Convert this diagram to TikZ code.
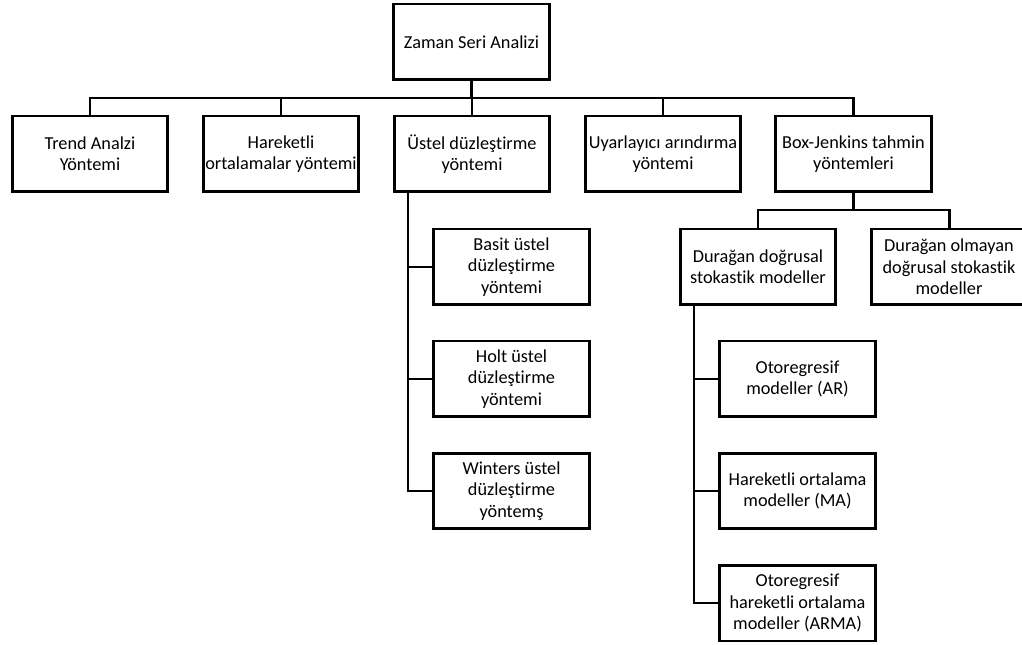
\documentclass[tikz,border=0pt]{standalone}
\usepackage{fontspec}
\setmainfont{Carlito}[Ligatures=NoCommon]
\begin{document}
\begin{tikzpicture}[x=0.02cm, y=-0.02cm,
  kutu/.style={draw, line width=1.7pt, minimum width=3.12cm, minimum height=1.52cm,
    inner sep=1pt, align=center, font=\fontsize{10.4}{12.2}\selectfont},
  bag/.style={line width=1.7pt}]
\clip (0,0) rectangle (1022,645);
% ana kutu
\node[kutu] (zsa) at (471.5,42) {Zaman Seri Analizi};
% birinci seviye
\node[kutu] (trend) at (90,154) {Trend Analzi\\Yöntemi};
\node[kutu] (hok) at (281,154) {Hareketli\\ortalamalar yöntemi};
\node[kutu] (ust) at (472,154) {Üstel düzleştirme\\yöntemi};
\node[kutu] (uya) at (663,154) {Uyarlayıcı arındırma\\yöntemi};
\node[kutu] (bjt) at (853.5,154) {Box-Jenkins tahmin\\yöntemleri};
\coordinate (bus0) at (471.5,98);
\draw[bag] (zsa.south) -- (bus0);
\draw[bag] (trend.north) |- (bus0) -| (bjt.north);
\draw[bag] (hok.north) -- (hok.north |- bus0);
\draw[bag] (ust.north) -- (ust.north |- bus0);
\draw[bag] (uya.north) -- (uya.north |- bus0);
% ustel alt kutular
\node[kutu] (basit) at (511.5,267) {Basit üstel\\düzleştirme\\yöntemi};
\node[kutu] (holt) at (511.5,379) {Holt üstel\\düzleştirme\\yöntemi};
\node[kutu] (wint) at (511.5,491) {Winters üstel\\düzleştirme\\yöntemş};
\coordinate (ustgov) at (408,193);
\draw[bag] (ustgov) |- (wint.west);
\draw[bag] (basit.west) -- (basit.west -| ustgov);
\draw[bag] (holt.west) -- (holt.west -| ustgov);
% box-jenkins alt kutular
\node[kutu] (dur) at (758,267) {Durağan doğrusal\\stokastik modeller};
\node[kutu] (durol) at (949,267) {Durağan olmayan\\doğrusal stokastik\\modeller};
\coordinate (bus1) at (853.5,210);
\draw[bag] (bjt.south) -- (bus1);
\draw[bag] (dur.north) |- (bus1) -| (durol.north);
% duragan alt kutular
\node[kutu] (ar) at (797.5,379) {Otoregresif\\modeller (AR)};
\node[kutu] (ma) at (797.5,491) {Hareketli ortalama\\modeller (MA)};
\node[kutu] (arma) at (797.5,603) {Otoregresif\\hareketli ortalama\\modeller (ARMA)};
\coordinate (durgov) at (694,306);
\draw[bag] (durgov) |- (arma.west);
\draw[bag] (ar.west) -- (ar.west -| durgov);
\draw[bag] (ma.west) -- (ma.west -| durgov);
\end{tikzpicture}
\end{document}
